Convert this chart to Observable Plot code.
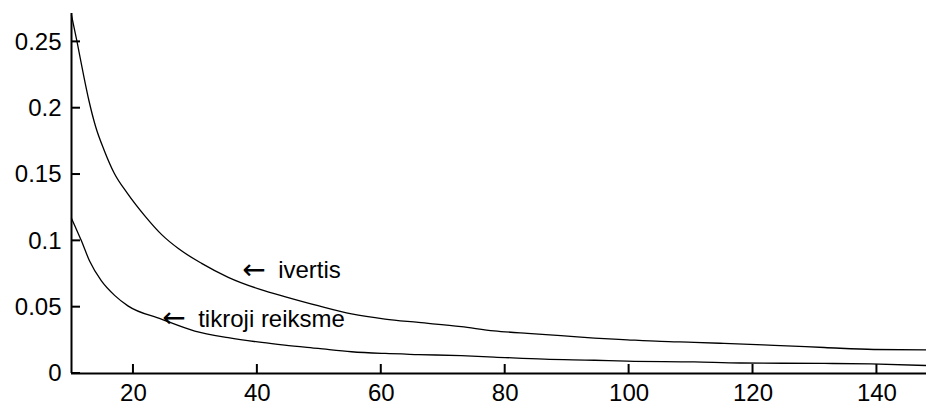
<!DOCTYPE html>
<html>
<head>
<meta charset="utf-8">
<script src="https://cdn.jsdelivr.net/npm/d3@7"></script>
<script src="https://cdn.jsdelivr.net/npm/@observablehq/plot@0.6"></script>
<style>
  html, body { margin: 0; padding: 0; background: #fff; }
  svg { display: block; }
</style>
</head>
<body>
<div id="chart"></div>
<script>
// Series: "ivertis" (estimate)
const ivertisX = [10, 10.9, 11.9, 12.8, 13.9, 15.3, 16.9, 19.0, 21.9, 24.6, 27.3, 31.0, 35.3, 40.7, 44.4, 49.8, 55.2, 60.6, 66, 72.9, 78.2, 83.6, 89, 94.4, 99.7, 105.1, 110.5, 115.3, 123.4, 131.5, 139.5, 148];
const ivertisY = [0.270, 0.250, 0.226, 0.206, 0.186, 0.168, 0.151, 0.136, 0.1185, 0.1045, 0.094, 0.083, 0.0725, 0.063, 0.058, 0.0511, 0.0449, 0.041, 0.0385, 0.0353, 0.0322, 0.0302, 0.0285, 0.0267, 0.0254, 0.0242, 0.0235, 0.0227, 0.0212, 0.0196, 0.0181, 0.0178];

// Series: "tikroji reiksme" (true value)
const tikrojiX = [10, 11.6, 12.9, 14.8, 17, 19.1, 24.5, 29.9, 35.3, 40.7, 44.4, 49.8, 55.2, 60.6, 66, 72.9, 78.2, 86.3, 94.4, 99.7, 110.5, 118, 131.5, 139, 148];
const tikrojiY = [0.117, 0.100, 0.085, 0.070, 0.0587, 0.051, 0.041, 0.032, 0.027, 0.0234, 0.0214, 0.0189, 0.0164, 0.0151, 0.0143, 0.0134, 0.0124, 0.0108, 0.0100, 0.0093, 0.0087, 0.0079, 0.0076, 0.0072, 0.0060];

// Ticks
const xTicks = [20, 40, 60, 80, 100, 120, 140];
const xTickLabels = ["20", "40", "60", "80", "100", "120", "140"];
const yTicks = [0, 0.05, 0.1, 0.15, 0.2, 0.25];
const yTickLabels = ["0", "0.05", "0.1", "0.15", "0.2", "0.25"];

// Annotations
const annX = [37.55, 24.64];
const annY = [0.0776, 0.0411];
const annText = ["ivertis", "tikroji reiksme"];

const ivertis = ivertisX.map((x, i) => ({x, y: ivertisY[i]}));
const tikroji = tikrojiX.map((x, i) => ({x, y: tikrojiY[i]}));
const ann = annX.map((x, i) => ({x, y: annY[i], text: annText[i]}));

const W = 926, H = 405, ML = 71, MR = 0, MT = 13, MB = 32, TICK = 9;
const xDomain = [10, 148], yDomain = [0, 0.2714];

const chart = Plot.plot({
  width: W,
  height: H,
  marginLeft: ML,
  marginRight: MR,
  marginTop: MT,
  marginBottom: MB,
  style: {fontFamily: "'Liberation Sans', Arial, sans-serif", fontSize: "24px", background: "#fff", color: "#000"},
  x: {domain: xDomain},
  y: {domain: yDomain},
  marks: [
    Plot.axisX({ticks: xTicks, tickFormat: d => xTickLabels[xTicks.indexOf(d)], tickSize: 0, tickPadding: 10, label: null, fontSize: 24}),
    Plot.axisY({ticks: yTicks, tickFormat: d => yTickLabels[yTicks.indexOf(d)], tickSize: 0, tickPadding: 10, label: null, fontSize: 24}),
    Plot.ruleY([0], {stroke: "#000", strokeWidth: 2}),
    Plot.ruleX([10], {stroke: "#000", strokeWidth: 2}),
    Plot.line(ivertis, {x: "x", y: "y", stroke: "#000", strokeWidth: 1.3, curve: "monotone-x"}),
    Plot.line(tikroji, {x: "x", y: "y", stroke: "#000", strokeWidth: 1.3, curve: "monotone-x"}),
    Plot.text(ann, {x: "x", y: "y", text: () => "\u2190", textAnchor: "start", lineAnchor: "middle", fontSize: 28, fontFamily: "DejaVu Sans", fill: "#000", dy: -1}),
    Plot.text(ann, {x: "x", y: "y", text: "text", textAnchor: "start", lineAnchor: "middle", fontSize: 24, fill: "#000", dx: 36})
  ]
});
document.getElementById("chart").appendChild(chart);

// Inward tick marks, positioned through Plot's own scales
const sx = chart.scale("x"), sy = chart.scale("y");
const svg = d3.select(chart);
const g = svg.append("g").attr("stroke", "#000").attr("stroke-width", 2);
const y0 = sy.apply(yDomain[0]);
const x0 = sx.apply(xDomain[0]);
g.selectAll("line.xt").data(xTicks).join("line")
  .attr("class", "xt")
  .attr("x1", d => sx.apply(d)).attr("x2", d => sx.apply(d))
  .attr("y1", y0).attr("y2", y0 - TICK);
g.selectAll("line.yt").data(yTicks).join("line")
  .attr("class", "yt")
  .attr("x1", x0).attr("x2", x0 + TICK)
  .attr("y1", d => sy.apply(d)).attr("y2", d => sy.apply(d));
</script>
</body>
</html>
